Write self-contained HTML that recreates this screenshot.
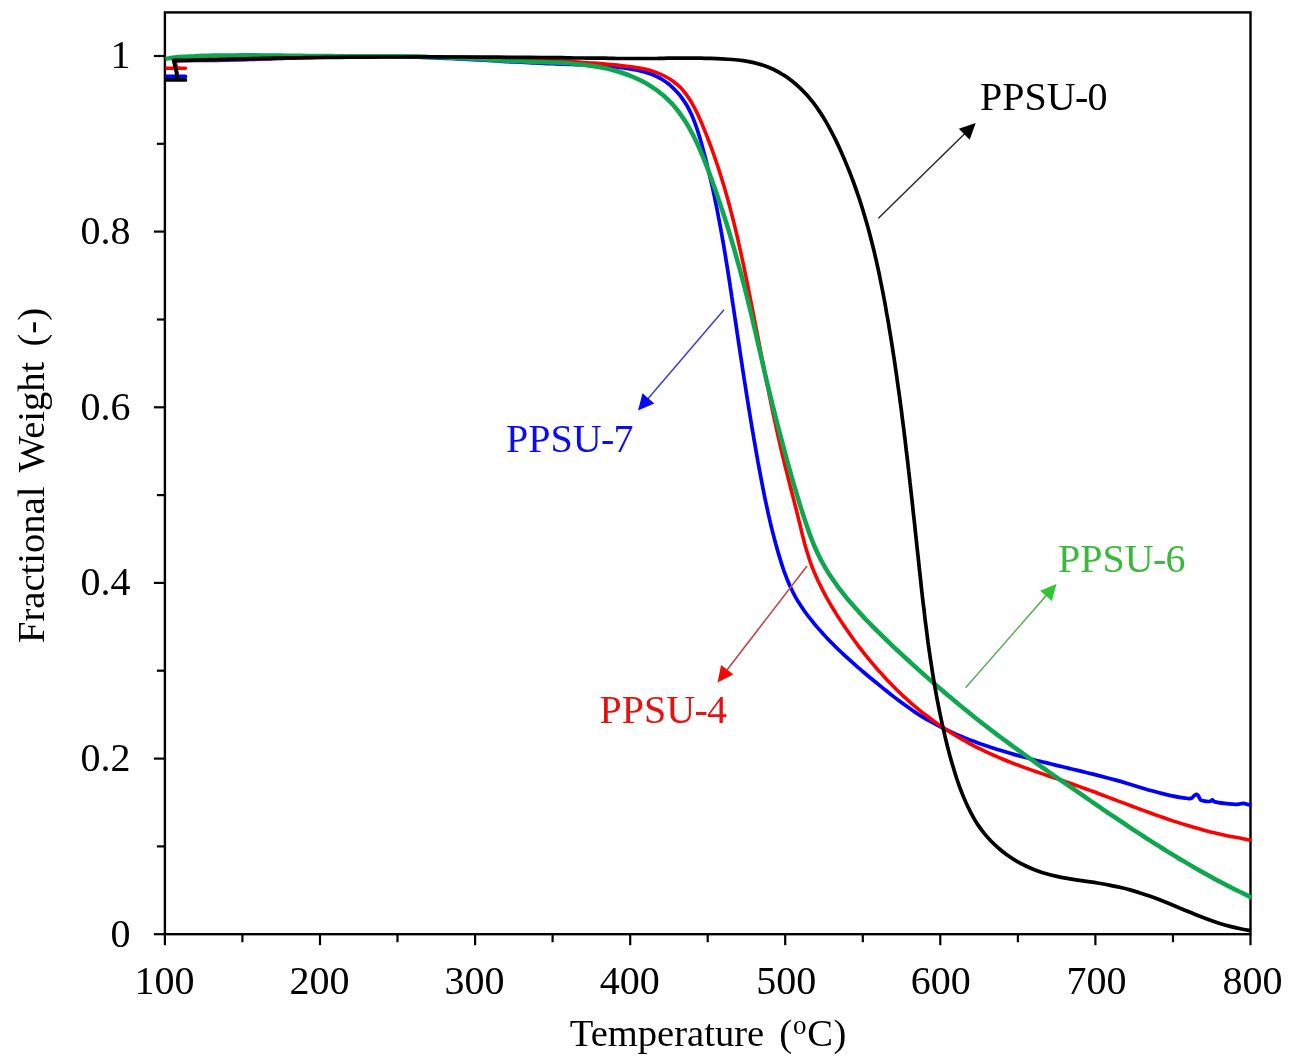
<!DOCTYPE html>
<html><head><meta charset="utf-8"><title>TGA</title>
<style>
html,body{margin:0;padding:0;background:#fff;}
body{width:1292px;height:1063px;overflow:hidden;font-family:"Liberation Serif",serif;}
svg{display:block;will-change:transform;filter:blur(0.4px);}
svg text{font-family:"Liberation Serif",serif;font-size:40px;fill:#000;}
</style></head><body>
<svg width="1292" height="1063" viewBox="0 0 1292 1063">
<rect x="0" y="0" width="1292" height="1063" fill="#ffffff"/>
<rect x="164.9" y="12.4" width="1085.6" height="921.8" fill="none" stroke="#000" stroke-width="2.4"/>
<g stroke="#000" stroke-width="2.2"><line x1="164.9" y1="934.2" x2="164.9" y2="945.2"/><line x1="242.4" y1="934.2" x2="242.4" y2="942.2"/><line x1="320.0" y1="934.2" x2="320.0" y2="945.2"/><line x1="397.5" y1="934.2" x2="397.5" y2="942.2"/><line x1="475.1" y1="934.2" x2="475.1" y2="945.2"/><line x1="552.6" y1="934.2" x2="552.6" y2="942.2"/><line x1="630.2" y1="934.2" x2="630.2" y2="945.2"/><line x1="707.7" y1="934.2" x2="707.7" y2="942.2"/><line x1="785.2" y1="934.2" x2="785.2" y2="945.2"/><line x1="862.8" y1="934.2" x2="862.8" y2="942.2"/><line x1="940.3" y1="934.2" x2="940.3" y2="945.2"/><line x1="1017.9" y1="934.2" x2="1017.9" y2="942.2"/><line x1="1095.4" y1="934.2" x2="1095.4" y2="945.2"/><line x1="1173.0" y1="934.2" x2="1173.0" y2="942.2"/><line x1="1250.5" y1="934.2" x2="1250.5" y2="945.2"/><line x1="153.9" y1="934.2" x2="164.9" y2="934.2"/><line x1="156.9" y1="846.4" x2="164.9" y2="846.4"/><line x1="153.9" y1="758.6" x2="164.9" y2="758.6"/><line x1="156.9" y1="670.7" x2="164.9" y2="670.7"/><line x1="153.9" y1="582.9" x2="164.9" y2="582.9"/><line x1="156.9" y1="495.1" x2="164.9" y2="495.1"/><line x1="153.9" y1="407.3" x2="164.9" y2="407.3"/><line x1="156.9" y1="319.5" x2="164.9" y2="319.5"/><line x1="153.9" y1="231.6" x2="164.9" y2="231.6"/><line x1="156.9" y1="143.8" x2="164.9" y2="143.8"/><line x1="153.9" y1="56.0" x2="164.9" y2="56.0"/></g>
<g fill="none" stroke-width="3.7" stroke-linejoin="round" stroke-linecap="butt">
<path d="M165.4 76.4 L185.5 76.4 L180.0 76.4 L177.2 75.5 L175.0 61.5 L180.0 60.5 C181.6 60.5 186.2 60.4 189.3 60.4 C192.4 60.4 195.5 60.4 198.6 60.4 C201.7 60.4 204.8 60.4 207.9 60.4 C211.0 60.4 214.1 60.3 217.2 60.3 C220.3 60.2 223.4 60.2 226.6 60.1 C229.7 60.0 232.8 60.0 235.9 59.9 C239.0 59.8 242.1 59.7 245.2 59.6 C248.3 59.5 251.4 59.4 254.5 59.3 C257.6 59.2 260.7 59.1 263.8 59.0 C266.9 58.9 270.1 58.7 273.2 58.6 C276.3 58.5 279.4 58.4 282.5 58.3 C285.6 58.1 288.7 58.0 291.8 57.9 C294.9 57.8 298.0 57.7 301.1 57.6 C304.3 57.4 307.4 57.3 310.5 57.2 C313.6 57.1 316.7 57.0 319.8 56.9 C322.9 56.8 326.0 56.7 329.1 56.7 C332.2 56.6 335.3 56.5 338.5 56.4 C341.6 56.4 344.7 56.3 347.8 56.2 C350.9 56.2 354.0 56.2 357.1 56.1 C360.2 56.1 363.3 56.1 366.4 56.1 C369.5 56.1 372.6 56.1 375.7 56.1 C378.8 56.1 381.9 56.2 385.0 56.2 C388.1 56.3 391.2 56.3 394.3 56.4 C397.5 56.5 400.6 56.5 403.7 56.6 C406.8 56.7 409.9 56.8 413.0 56.9 C416.1 57.0 419.2 57.1 422.3 57.3 C425.4 57.4 428.5 57.5 431.6 57.6 C434.7 57.8 437.8 57.9 440.9 58.1 C444.0 58.2 447.1 58.4 450.2 58.5 C453.3 58.7 456.4 58.8 459.5 59.0 C462.6 59.2 465.7 59.3 468.8 59.5 C471.9 59.7 475.0 59.8 478.1 60.0 C481.2 60.2 484.3 60.4 487.4 60.5 C490.5 60.7 493.6 60.9 496.7 61.0 C499.8 61.2 502.9 61.4 506.0 61.6 C509.1 61.7 512.2 61.9 515.3 62.0 C518.4 62.2 521.5 62.4 524.6 62.5 C527.7 62.7 530.8 62.8 533.9 63.0 C537.0 63.1 540.1 63.2 543.2 63.4 C546.3 63.5 549.4 63.6 552.5 63.7 C555.6 63.9 558.7 64.0 561.8 64.1 C565.0 64.2 568.1 64.3 571.2 64.4 C574.3 64.5 577.4 64.6 580.5 64.7 C583.6 64.8 586.7 64.9 589.8 65.1 C592.9 65.2 596.0 65.4 599.1 65.6 C602.3 65.8 605.4 66.0 608.5 66.3 C611.6 66.5 614.7 66.8 617.8 67.2 C620.9 67.6 624.0 68.0 627.1 68.4 C630.2 68.9 633.3 69.4 636.3 70.0 C639.4 70.7 642.4 71.4 645.4 72.2 C648.4 73.1 651.3 74.1 654.1 75.3 C656.9 76.5 659.6 77.9 662.2 79.5 C664.8 81.1 667.3 82.9 669.7 84.8 C672.0 86.8 674.2 88.9 676.3 91.2 C678.4 93.4 680.4 95.8 682.2 98.3 C684.0 100.8 685.7 103.4 687.2 106.0 C688.7 108.7 690.1 111.5 691.4 114.3 C692.7 117.1 693.8 120.0 694.9 122.9 C696.0 125.8 697.0 128.8 698.0 131.8 C699.0 134.8 699.8 137.8 700.7 140.8 C701.6 143.9 702.4 146.9 703.2 149.9 C704.1 153.0 704.9 156.0 705.7 159.0 C706.4 162.1 707.2 165.1 707.9 168.1 C708.7 171.2 709.4 174.2 710.1 177.3 C710.8 180.3 711.5 183.3 712.2 186.4 C712.9 189.4 713.5 192.5 714.2 195.5 C714.8 198.6 715.5 201.6 716.1 204.6 C716.7 207.7 717.3 210.7 717.9 213.8 C718.5 216.8 719.1 219.9 719.6 222.9 C720.2 226.0 720.8 229.0 721.3 232.1 C721.9 235.1 722.4 238.2 722.9 241.2 C723.5 244.3 724.0 247.4 724.5 250.4 C725.0 253.5 725.5 256.5 726.0 259.6 C726.5 262.6 727.0 265.7 727.5 268.8 C728.0 271.8 728.4 274.9 728.9 277.9 C729.4 281.0 729.9 284.1 730.3 287.1 C730.8 290.2 731.3 293.3 731.7 296.3 C732.2 299.4 732.6 302.5 733.1 305.5 C733.6 308.6 734.0 311.7 734.5 314.7 C734.9 317.8 735.4 320.9 735.9 323.9 C736.3 327.0 736.8 330.1 737.2 333.2 C737.7 336.2 738.2 339.3 738.6 342.4 C739.1 345.4 739.5 348.5 740.0 351.6 C740.5 354.7 740.9 357.7 741.4 360.8 C741.9 363.9 742.3 367.0 742.8 370.0 C743.3 373.1 743.8 376.2 744.2 379.3 C744.7 382.3 745.2 385.4 745.7 388.5 C746.2 391.6 746.6 394.6 747.1 397.7 C747.6 400.8 748.1 403.8 748.6 406.9 C749.1 410.0 749.6 413.1 750.1 416.1 C750.6 419.2 751.1 422.3 751.6 425.3 C752.1 428.4 752.7 431.5 753.2 434.5 C753.7 437.6 754.2 440.7 754.8 443.7 C755.3 446.8 755.8 449.8 756.4 452.9 C756.9 456.0 757.5 459.0 758.0 462.1 C758.6 465.1 759.1 468.2 759.7 471.2 C760.3 474.3 760.8 477.3 761.4 480.4 C762.0 483.4 762.6 486.5 763.2 489.5 C763.8 492.6 764.4 495.6 765.0 498.6 C765.7 501.7 766.3 504.7 767.0 507.8 C767.6 510.8 768.3 513.8 769.0 516.8 C769.7 519.9 770.4 522.9 771.1 525.9 C771.8 528.9 772.6 531.9 773.4 534.9 C774.1 538.0 774.9 541.0 775.8 544.0 C776.6 547.0 777.4 550.0 778.3 552.9 C779.2 555.9 780.1 558.9 781.0 561.9 C781.9 564.9 782.9 567.8 783.9 570.8 C785.0 573.7 786.0 576.6 787.2 579.5 C788.4 582.4 789.6 585.2 790.9 588.1 C792.2 590.9 793.6 593.6 795.1 596.3 C796.6 599.0 798.2 601.7 799.9 604.3 C801.6 606.9 803.3 609.5 805.1 612.0 C806.9 614.5 808.8 617.0 810.8 619.4 C812.7 621.9 814.7 624.3 816.7 626.6 C818.7 629.0 820.8 631.3 822.9 633.6 C824.9 635.9 827.1 638.2 829.2 640.4 C831.4 642.6 833.6 644.8 835.8 647.0 C838.0 649.2 840.2 651.3 842.5 653.4 C844.7 655.5 847.0 657.6 849.3 659.7 C851.6 661.8 853.9 663.8 856.3 665.9 C858.6 667.9 861.0 669.9 863.4 672.0 C865.7 674.0 868.1 676.0 870.5 678.0 C872.9 679.9 875.3 681.9 877.8 683.9 C880.2 685.9 882.6 687.8 885.0 689.8 C887.5 691.7 889.9 693.7 892.4 695.6 C894.8 697.5 897.3 699.4 899.8 701.3 C902.3 703.2 904.8 705.0 907.4 706.8 C909.9 708.6 912.5 710.4 915.0 712.1 C917.6 713.8 920.2 715.5 922.9 717.1 C925.5 718.7 928.2 720.2 930.9 721.7 C933.6 723.2 936.3 724.7 939.1 726.1 C941.8 727.5 944.6 728.9 947.4 730.2 C950.2 731.5 953.0 732.8 955.8 734.1 C958.7 735.3 961.5 736.5 964.4 737.7 C967.3 738.8 970.2 740.0 973.1 741.1 C976.0 742.2 978.9 743.2 981.8 744.3 C984.7 745.3 987.7 746.3 990.6 747.3 C993.6 748.2 996.6 749.2 999.5 750.1 C1002.5 751.0 1005.5 751.9 1008.5 752.8 C1011.5 753.7 1014.5 754.5 1017.5 755.4 C1020.5 756.2 1023.5 757.0 1026.5 757.8 C1029.5 758.6 1032.6 759.4 1035.6 760.2 C1038.6 760.9 1041.6 761.7 1044.6 762.4 C1047.6 763.2 1050.7 763.9 1053.7 764.6 C1056.7 765.4 1059.7 766.1 1062.7 766.8 C1065.7 767.5 1068.7 768.3 1071.7 769.0 C1074.8 769.7 1077.8 770.4 1080.8 771.1 C1083.8 771.9 1086.8 772.6 1089.8 773.4 C1092.8 774.1 1095.8 774.8 1098.8 775.6 C1101.8 776.4 1104.8 777.2 1107.8 778.0 C1110.8 778.8 1113.8 779.6 1116.8 780.4 C1119.8 781.2 1122.8 782.1 1125.8 783.0 C1128.7 783.9 1131.7 784.8 1134.7 785.7 C1137.7 786.6 1140.7 787.5 1143.7 788.4 C1146.6 789.3 1149.6 790.2 1152.6 791.0 C1155.6 791.8 1158.6 792.7 1161.6 793.4 C1164.7 794.2 1167.7 794.9 1170.7 795.6 C1173.8 796.2 1176.8 796.8 1179.9 797.3 C1182.9 797.8 1187.6 798.4 1189.1 798.6 C1189.5 798.5 1190.7 798.7 1191.6 798.1 C1192.5 797.5 1193.9 795.9 1194.7 795.3 C1195.5 794.7 1196.0 794.3 1196.6 794.4 C1197.2 794.5 1197.8 795.0 1198.4 795.9 C1199.0 796.8 1199.5 798.8 1200.3 799.6 C1201.1 800.4 1201.8 800.6 1203.4 800.9 C1205.0 801.2 1208.5 801.6 1210.0 801.4 C1211.5 801.2 1211.6 799.8 1212.4 799.9 C1213.2 800.0 1212.8 801.3 1214.9 801.9 C1217.0 802.5 1221.1 803.0 1224.8 803.4 C1228.5 803.8 1234.1 804.4 1237.2 804.4 C1240.3 804.4 1241.0 803.2 1243.4 803.4 C1245.8 803.6 1250.2 805.1 1251.5 805.4" stroke="#0000ff" stroke-width="3.7"/>
<path d="M165.4 68.3 L185.5 68.3 L180.0 68.3 L176.5 67.5 L174.5 61.0 L180.0 60.4 C181.6 60.4 186.5 60.3 189.7 60.3 C193.0 60.2 196.2 60.1 199.4 60.1 C202.7 60.0 205.9 59.9 209.2 59.8 C212.4 59.8 215.6 59.7 218.9 59.6 C222.1 59.5 225.4 59.5 228.6 59.4 C231.8 59.3 235.1 59.2 238.3 59.2 C241.6 59.1 244.8 59.0 248.0 58.9 C251.3 58.8 254.5 58.8 257.8 58.7 C261.0 58.6 264.2 58.5 267.5 58.5 C270.7 58.4 273.9 58.3 277.2 58.3 C280.4 58.2 283.7 58.1 286.9 58.0 C290.1 58.0 293.4 57.9 296.6 57.8 C299.9 57.8 303.1 57.7 306.3 57.7 C309.6 57.6 312.8 57.5 316.0 57.5 C319.3 57.4 322.5 57.4 325.8 57.3 C329.0 57.3 332.2 57.2 335.5 57.2 C338.7 57.1 342.0 57.1 345.2 57.0 C348.4 57.0 351.7 56.9 354.9 56.9 C358.2 56.9 361.4 56.8 364.6 56.8 C367.9 56.8 371.1 56.7 374.3 56.7 C377.6 56.7 380.8 56.7 384.1 56.7 C387.3 56.6 390.5 56.6 393.8 56.6 C397.0 56.6 400.3 56.6 403.5 56.6 C406.7 56.6 410.0 56.6 413.2 56.6 C416.5 56.6 419.7 56.6 422.9 56.7 C426.2 56.7 429.4 56.7 432.7 56.7 C435.9 56.8 439.2 56.8 442.4 56.8 C445.6 56.9 448.9 56.9 452.1 57.0 C455.4 57.0 458.6 57.1 461.8 57.1 C465.1 57.2 468.3 57.3 471.6 57.3 C474.8 57.4 478.1 57.5 481.3 57.6 C484.5 57.6 487.8 57.7 491.0 57.8 C494.3 57.9 497.5 58.0 500.7 58.1 C504.0 58.2 507.2 58.3 510.5 58.5 C513.7 58.6 516.9 58.7 520.2 58.8 C523.4 59.0 526.7 59.1 529.9 59.3 C533.1 59.4 536.4 59.6 539.6 59.7 C542.8 59.9 546.1 60.0 549.3 60.2 C552.5 60.4 555.8 60.6 559.0 60.8 C562.2 61.0 565.5 61.2 568.7 61.4 C571.9 61.6 575.1 61.8 578.4 62.0 C581.6 62.2 584.8 62.4 588.0 62.7 C591.3 62.9 594.5 63.1 597.7 63.4 C600.9 63.7 604.1 63.9 607.4 64.2 C610.6 64.5 613.8 64.8 617.0 65.1 C620.3 65.4 623.5 65.8 626.7 66.2 C630.0 66.6 633.2 66.9 636.4 67.5 C639.7 68.0 642.9 68.5 646.1 69.3 C649.2 70.1 652.4 71.0 655.5 72.1 C658.5 73.2 661.6 74.5 664.5 76.0 C667.3 77.5 670.2 79.1 672.7 81.0 C675.3 82.9 677.8 84.9 680.0 87.1 C682.3 89.4 684.3 91.8 686.2 94.3 C688.1 96.8 689.8 99.5 691.5 102.3 C693.1 105.1 694.6 108.0 696.1 110.9 C697.5 113.8 698.9 116.8 700.2 119.8 C701.5 122.8 702.8 125.8 704.0 128.9 C705.2 131.9 706.5 134.9 707.6 138.0 C708.8 141.0 710.0 144.1 711.1 147.1 C712.2 150.2 713.3 153.2 714.4 156.3 C715.5 159.4 716.5 162.5 717.5 165.5 C718.6 168.6 719.5 171.7 720.5 174.8 C721.5 177.9 722.4 181.0 723.4 184.1 C724.3 187.2 725.2 190.3 726.1 193.4 C727.0 196.5 727.9 199.7 728.7 202.8 C729.5 205.9 730.4 209.0 731.2 212.2 C732.0 215.3 732.8 218.4 733.6 221.6 C734.4 224.7 735.1 227.8 735.9 231.0 C736.6 234.1 737.4 237.3 738.1 240.4 C738.8 243.6 739.5 246.7 740.2 249.9 C740.9 253.1 741.6 256.2 742.3 259.4 C743.0 262.6 743.6 265.7 744.3 268.9 C745.0 272.1 745.6 275.2 746.3 278.4 C746.9 281.6 747.6 284.8 748.2 287.9 C748.8 291.1 749.5 294.3 750.1 297.5 C750.7 300.6 751.4 303.8 752.0 307.0 C752.6 310.2 753.2 313.4 753.9 316.5 C754.5 319.7 755.1 322.9 755.7 326.1 C756.3 329.3 757.0 332.5 757.6 335.6 C758.2 338.8 758.8 342.0 759.4 345.2 C760.0 348.4 760.7 351.6 761.3 354.8 C761.9 357.9 762.5 361.1 763.2 364.3 C763.8 367.5 764.4 370.7 765.0 373.8 C765.7 377.0 766.3 380.2 766.9 383.4 C767.6 386.6 768.2 389.7 768.9 392.9 C769.5 396.1 770.2 399.3 770.8 402.4 C771.5 405.6 772.2 408.8 772.8 412.0 C773.5 415.1 774.2 418.3 774.9 421.5 C775.6 424.6 776.2 427.8 776.9 430.9 C777.6 434.1 778.4 437.3 779.1 440.4 C779.8 443.6 780.5 446.7 781.2 449.9 C782.0 453.0 782.7 456.2 783.5 459.3 C784.2 462.4 785.0 465.6 785.8 468.7 C786.6 471.9 787.4 475.0 788.2 478.1 C788.9 481.3 789.8 484.4 790.6 487.5 C791.4 490.6 792.2 493.8 793.0 496.9 C793.8 500.1 794.6 503.2 795.4 506.3 C796.2 509.5 797.0 512.6 797.8 515.8 C798.5 518.9 799.3 522.1 800.1 525.3 C800.9 528.5 801.6 531.6 802.4 534.8 C803.2 538.0 804.0 541.1 804.8 544.3 C805.7 547.4 806.6 550.5 807.6 553.6 C808.5 556.7 809.5 559.8 810.6 562.8 C811.7 565.9 812.9 568.9 814.1 571.9 C815.4 574.8 816.7 577.8 818.0 580.7 C819.4 583.6 820.8 586.5 822.3 589.4 C823.7 592.3 825.2 595.1 826.8 597.9 C828.3 600.8 830.0 603.6 831.6 606.3 C833.3 609.1 835.0 611.9 836.7 614.6 C838.4 617.4 840.2 620.1 842.0 622.8 C843.8 625.5 845.6 628.1 847.5 630.8 C849.3 633.5 851.2 636.1 853.1 638.7 C855.0 641.4 857.0 644.0 858.9 646.6 C860.9 649.1 862.9 651.7 864.9 654.3 C867.0 656.8 869.0 659.3 871.1 661.8 C873.2 664.3 875.3 666.8 877.4 669.2 C879.6 671.6 881.7 674.1 883.9 676.4 C886.1 678.8 888.4 681.2 890.6 683.5 C892.9 685.8 895.2 688.1 897.5 690.4 C899.8 692.7 902.1 694.9 904.5 697.1 C906.9 699.3 909.3 701.4 911.7 703.6 C914.2 705.7 916.7 707.8 919.1 709.8 C921.6 711.9 924.2 713.9 926.7 715.8 C929.3 717.8 931.9 719.7 934.5 721.6 C937.1 723.5 939.8 725.4 942.5 727.2 C945.1 729.0 947.9 730.7 950.6 732.5 C953.3 734.2 956.1 735.9 958.9 737.5 C961.7 739.1 964.5 740.7 967.3 742.3 C970.2 743.8 973.0 745.3 975.9 746.8 C978.8 748.3 981.7 749.7 984.6 751.1 C987.6 752.5 990.5 753.9 993.5 755.2 C996.4 756.5 999.4 757.8 1002.4 759.0 C1005.4 760.3 1008.4 761.5 1011.4 762.7 C1014.4 763.8 1017.4 765.0 1020.5 766.1 C1023.5 767.2 1026.5 768.3 1029.6 769.4 C1032.6 770.5 1035.7 771.5 1038.8 772.6 C1041.8 773.7 1044.9 774.7 1048.0 775.7 C1051.0 776.8 1054.1 777.8 1057.2 778.9 C1060.3 779.9 1063.3 780.9 1066.4 782.0 C1069.5 783.0 1072.5 784.1 1075.6 785.2 C1078.6 786.3 1081.7 787.4 1084.7 788.5 C1087.8 789.6 1090.8 790.7 1093.9 791.8 C1096.9 792.9 1099.9 794.1 1103.0 795.2 C1106.0 796.4 1109.0 797.5 1112.1 798.7 C1115.1 799.8 1118.1 801.0 1121.2 802.1 C1124.2 803.3 1127.2 804.4 1130.3 805.5 C1133.3 806.7 1136.3 807.8 1139.4 809.0 C1142.4 810.1 1145.5 811.2 1148.5 812.3 C1151.5 813.4 1154.6 814.5 1157.6 815.6 C1160.7 816.7 1163.8 817.7 1166.8 818.8 C1169.9 819.8 1172.9 820.9 1176.0 821.9 C1179.1 822.9 1182.2 823.8 1185.3 824.8 C1188.3 825.8 1191.4 826.7 1194.6 827.6 C1197.7 828.5 1200.8 829.4 1203.9 830.2 C1207.0 831.0 1210.2 831.9 1213.3 832.6 C1216.4 833.4 1219.6 834.1 1222.8 834.8 C1225.9 835.5 1229.1 836.2 1232.3 836.8 C1235.5 837.4 1238.8 837.9 1241.9 838.5 C1245.1 839.1 1249.9 840.0 1251.5 840.3" stroke="#ff0000" stroke-width="3.6"/>
<path d="M165.4 58.9 C167.0 58.7 171.8 57.8 175.0 57.4 C178.2 57.1 181.5 56.9 184.7 56.7 C188.0 56.5 191.2 56.3 194.5 56.2 C197.7 56.0 201.0 55.9 204.2 55.8 C207.5 55.7 210.7 55.7 214.0 55.6 C217.2 55.5 220.5 55.5 223.7 55.4 C227.0 55.4 230.2 55.4 233.5 55.4 C236.7 55.3 240.0 55.3 243.2 55.3 C246.5 55.3 249.7 55.3 253.0 55.3 C256.2 55.4 259.5 55.4 262.7 55.4 C266.0 55.4 269.2 55.5 272.5 55.5 C275.7 55.5 279.0 55.6 282.2 55.6 C285.5 55.6 288.7 55.7 292.0 55.7 C295.2 55.8 298.5 55.8 301.7 55.8 C305.0 55.9 308.2 55.9 311.5 56.0 C314.8 56.0 318.0 56.0 321.3 56.1 C324.5 56.1 327.8 56.1 331.0 56.1 C334.3 56.1 337.6 56.2 340.8 56.2 C344.1 56.2 347.4 56.2 350.6 56.2 C353.9 56.2 357.2 56.2 360.4 56.2 C363.7 56.2 367.0 56.2 370.2 56.2 C373.5 56.2 376.8 56.2 380.0 56.2 C383.3 56.2 386.5 56.3 389.8 56.3 C393.1 56.3 396.3 56.3 399.6 56.3 C402.8 56.4 406.1 56.4 409.4 56.5 C412.6 56.5 415.9 56.6 419.1 56.6 C422.4 56.7 425.6 56.8 428.9 56.9 C432.1 56.9 435.3 57.0 438.6 57.2 C441.8 57.3 445.0 57.4 448.3 57.5 C451.5 57.7 454.7 57.8 458.0 58.0 C461.2 58.2 464.4 58.3 467.6 58.5 C470.9 58.7 474.1 58.9 477.3 59.1 C480.5 59.2 483.8 59.4 487.0 59.6 C490.2 59.8 493.5 60.0 496.7 60.2 C499.9 60.3 503.2 60.5 506.4 60.7 C509.7 60.8 512.9 61.0 516.2 61.1 C519.4 61.3 522.7 61.4 526.0 61.5 C529.2 61.7 532.5 61.8 535.8 61.9 C539.1 62.0 542.4 62.1 545.6 62.2 C548.9 62.3 552.2 62.4 555.5 62.6 C558.8 62.8 562.1 62.9 565.3 63.1 C568.6 63.3 571.9 63.6 575.1 63.9 C578.4 64.1 581.6 64.5 584.9 64.9 C588.1 65.3 591.3 65.7 594.5 66.2 C597.7 66.7 600.9 67.3 604.1 68.0 C607.3 68.6 610.4 69.4 613.5 70.2 C616.7 71.1 619.8 72.0 622.8 73.0 C625.9 74.1 629.0 75.2 632.0 76.5 C635.0 77.7 637.9 79.1 640.9 80.6 C643.8 82.0 646.6 83.6 649.4 85.3 C652.2 87.0 654.9 88.8 657.5 90.7 C660.1 92.7 662.6 94.7 665.0 96.8 C667.3 99.0 669.6 101.2 671.8 103.6 C673.9 105.9 676.0 108.4 678.0 110.9 C679.9 113.5 681.8 116.1 683.6 118.8 C685.4 121.5 687.1 124.2 688.7 127.0 C690.3 129.9 691.9 132.8 693.4 135.7 C694.9 138.6 696.3 141.6 697.7 144.6 C699.0 147.6 700.4 150.6 701.6 153.7 C702.9 156.7 704.2 159.8 705.4 162.9 C706.6 165.9 707.7 169.0 708.9 172.1 C710.1 175.2 711.2 178.3 712.3 181.3 C713.4 184.4 714.5 187.4 715.6 190.5 C716.7 193.6 717.7 196.6 718.7 199.7 C719.8 202.7 720.8 205.8 721.8 208.9 C722.8 211.9 723.8 215.0 724.8 218.1 C725.8 221.1 726.7 224.2 727.7 227.3 C728.6 230.4 729.6 233.5 730.5 236.6 C731.4 239.7 732.3 242.8 733.3 245.9 C734.2 249.1 735.1 252.2 735.9 255.3 C736.8 258.5 737.7 261.6 738.6 264.8 C739.4 267.9 740.3 271.1 741.1 274.2 C742.0 277.4 742.8 280.5 743.6 283.7 C744.5 286.8 745.3 290.0 746.1 293.2 C746.9 296.3 747.7 299.5 748.4 302.7 C749.2 305.9 750.0 309.0 750.8 312.2 C751.5 315.4 752.3 318.5 753.0 321.7 C753.8 324.9 754.5 328.0 755.2 331.2 C756.0 334.4 756.7 337.5 757.4 340.7 C758.2 343.9 758.9 347.0 759.6 350.2 C760.3 353.4 761.1 356.5 761.8 359.7 C762.5 362.9 763.3 366.0 764.0 369.2 C764.7 372.4 765.5 375.5 766.2 378.7 C767.0 381.9 767.7 385.0 768.5 388.2 C769.2 391.3 770.0 394.5 770.8 397.7 C771.6 400.8 772.3 404.0 773.1 407.1 C773.9 410.3 774.7 413.4 775.5 416.6 C776.3 419.7 777.1 422.9 777.9 426.0 C778.7 429.2 779.6 432.3 780.4 435.5 C781.2 438.6 782.1 441.8 782.9 444.9 C783.7 448.1 784.6 451.2 785.4 454.4 C786.3 457.5 787.2 460.6 788.0 463.8 C788.9 466.9 789.8 470.0 790.7 473.2 C791.5 476.3 792.4 479.4 793.3 482.6 C794.2 485.7 795.1 488.8 796.1 491.9 C797.0 495.0 797.9 498.2 798.9 501.3 C799.8 504.4 800.8 507.5 801.8 510.6 C802.8 513.7 803.8 516.8 804.8 519.9 C805.8 523.0 806.9 526.1 808.0 529.2 C809.0 532.3 810.1 535.4 811.3 538.4 C812.5 541.5 813.7 544.5 815.0 547.5 C816.3 550.4 817.7 553.4 819.1 556.3 C820.5 559.2 822.1 562.0 823.7 564.9 C825.2 567.7 826.9 570.4 828.6 573.2 C830.4 575.9 832.2 578.6 834.0 581.2 C835.9 583.9 837.8 586.5 839.7 589.1 C841.7 591.7 843.7 594.3 845.8 596.8 C847.8 599.3 849.9 601.8 852.1 604.3 C854.2 606.7 856.4 609.2 858.6 611.6 C860.7 614.0 863.0 616.4 865.2 618.8 C867.5 621.1 869.7 623.5 872.0 625.8 C874.3 628.1 876.6 630.4 878.9 632.7 C881.2 635.0 883.6 637.3 885.9 639.5 C888.3 641.8 890.6 644.0 893.0 646.3 C895.3 648.5 897.7 650.7 900.1 652.9 C902.5 655.1 904.9 657.3 907.3 659.5 C909.7 661.7 912.1 663.9 914.5 666.1 C916.9 668.3 919.3 670.5 921.8 672.6 C924.2 674.8 926.6 676.9 929.1 679.1 C931.5 681.2 934.0 683.4 936.4 685.5 C938.9 687.6 941.4 689.7 943.8 691.8 C946.3 694.0 948.8 696.1 951.3 698.1 C953.8 700.2 956.3 702.3 958.8 704.4 C961.3 706.5 963.8 708.5 966.4 710.6 C968.9 712.6 971.4 714.6 974.0 716.7 C976.5 718.7 979.1 720.7 981.6 722.7 C984.2 724.7 986.8 726.7 989.4 728.7 C991.9 730.6 994.5 732.6 997.1 734.6 C999.7 736.5 1002.3 738.5 1004.9 740.4 C1007.6 742.3 1010.2 744.3 1012.8 746.2 C1015.4 748.1 1018.1 750.0 1020.7 751.9 C1023.3 753.8 1026.0 755.7 1028.6 757.6 C1031.3 759.5 1033.9 761.4 1036.6 763.3 C1039.2 765.1 1041.9 767.0 1044.5 768.9 C1047.2 770.8 1049.9 772.6 1052.5 774.5 C1055.2 776.3 1057.9 778.2 1060.6 780.1 C1063.2 781.9 1065.9 783.8 1068.6 785.6 C1071.3 787.5 1073.9 789.3 1076.6 791.2 C1079.3 793.0 1082.0 794.9 1084.6 796.7 C1087.3 798.6 1090.0 800.4 1092.7 802.3 C1095.4 804.1 1098.1 805.9 1100.7 807.8 C1103.4 809.6 1106.1 811.4 1108.8 813.3 C1111.5 815.1 1114.2 816.9 1116.9 818.7 C1119.6 820.5 1122.3 822.4 1125.0 824.2 C1127.7 826.0 1130.4 827.8 1133.1 829.6 C1135.9 831.3 1138.6 833.1 1141.3 834.9 C1144.0 836.7 1146.8 838.4 1149.5 840.2 C1152.2 841.9 1155.0 843.7 1157.7 845.4 C1160.5 847.1 1163.2 848.9 1166.0 850.6 C1168.8 852.3 1171.5 854.0 1174.3 855.7 C1177.1 857.4 1179.9 859.0 1182.7 860.7 C1185.5 862.4 1188.3 864.0 1191.1 865.6 C1193.9 867.3 1196.7 868.9 1199.5 870.5 C1202.4 872.1 1205.2 873.7 1208.1 875.2 C1210.9 876.8 1213.8 878.4 1216.6 879.9 C1219.5 881.4 1222.4 882.9 1225.3 884.4 C1228.2 885.9 1231.1 887.4 1234.0 888.9 C1236.9 890.3 1239.9 891.7 1242.8 893.2 C1245.7 894.7 1250.0 896.9 1251.5 897.6" stroke="#0ea64e" stroke-width="4.5"/>
<path d="M165.4 79.9 L185.5 79.9 L181.0 79.9 L177.8 79.5 L176.0 70.0 L173.6 60.3 L178.0 60.4 C179.8 60.4 185.1 60.4 188.7 60.3 C192.2 60.2 195.8 60.1 199.3 60.0 C202.9 59.9 206.4 59.8 210.0 59.7 C213.5 59.6 217.1 59.5 220.6 59.4 C224.2 59.3 227.7 59.2 231.3 59.1 C234.9 59.0 238.4 58.9 242.0 58.8 C245.5 58.8 249.1 58.7 252.6 58.6 C256.2 58.5 259.7 58.5 263.3 58.4 C266.8 58.3 270.4 58.3 273.9 58.2 C277.5 58.1 281.1 58.1 284.6 58.0 C288.2 57.9 291.7 57.9 295.3 57.8 C298.8 57.8 302.4 57.7 305.9 57.7 C309.5 57.6 313.1 57.6 316.6 57.5 C320.2 57.5 323.7 57.5 327.3 57.4 C330.8 57.4 334.4 57.3 337.9 57.3 C341.5 57.3 345.1 57.2 348.6 57.2 C352.2 57.2 355.7 57.2 359.3 57.1 C362.8 57.1 366.4 57.1 369.9 57.1 C373.5 57.1 377.1 57.0 380.6 57.0 C384.2 57.0 387.7 57.0 391.3 57.0 C394.8 57.0 398.4 57.0 401.9 57.0 C405.5 56.9 409.1 56.9 412.6 56.9 C416.2 56.9 419.7 56.9 423.3 56.9 C426.8 56.9 430.4 56.9 433.9 56.9 C437.5 56.9 441.0 57.0 444.6 57.0 C448.2 57.0 451.7 57.0 455.3 57.0 C458.8 57.0 462.4 57.0 465.9 57.0 C469.5 57.0 473.0 57.1 476.6 57.1 C480.1 57.1 483.7 57.1 487.3 57.1 C490.8 57.1 494.4 57.2 497.9 57.2 C501.5 57.2 505.0 57.2 508.6 57.3 C512.1 57.3 515.7 57.3 519.2 57.3 C522.8 57.4 526.3 57.4 529.9 57.4 C533.4 57.5 537.0 57.5 540.6 57.5 C544.1 57.6 547.7 57.6 551.2 57.6 C554.8 57.7 558.3 57.7 561.9 57.7 C565.4 57.8 569.0 57.8 572.5 57.9 C576.1 57.9 579.6 57.9 583.2 58.0 C586.7 58.0 590.3 58.1 593.8 58.1 C597.4 58.2 600.9 58.2 604.5 58.2 C608.0 58.3 611.6 58.3 615.2 58.4 C618.7 58.4 622.3 58.4 625.8 58.5 C629.4 58.5 632.9 58.5 636.5 58.5 C640.0 58.5 643.6 58.5 647.1 58.5 C650.7 58.4 654.2 58.4 657.8 58.4 C661.3 58.3 664.9 58.3 668.4 58.2 C671.9 58.2 675.5 58.2 679.0 58.1 C682.6 58.1 686.1 58.1 689.7 58.1 C693.2 58.1 696.8 58.1 700.3 58.2 C703.9 58.3 707.5 58.3 711.0 58.4 C714.6 58.5 718.2 58.7 721.7 58.8 C725.3 59.0 728.9 59.2 732.5 59.5 C736.1 59.8 739.6 60.2 743.2 60.7 C746.7 61.2 750.2 61.8 753.7 62.6 C757.1 63.4 760.6 64.3 763.9 65.5 C767.2 66.6 770.5 68.0 773.7 69.5 C776.9 71.1 780.0 72.8 783.0 74.7 C786.0 76.5 788.9 78.6 791.7 80.7 C794.5 82.9 797.1 85.2 799.6 87.6 C802.2 90.0 804.6 92.5 806.9 95.1 C809.3 97.7 811.5 100.5 813.6 103.2 C815.8 106.0 817.8 108.9 819.8 111.9 C821.8 114.8 823.7 117.9 825.5 120.9 C827.3 124.0 829.0 127.2 830.7 130.3 C832.4 133.5 834.1 136.7 835.6 139.9 C837.2 143.2 838.7 146.4 840.2 149.7 C841.7 153.0 843.1 156.3 844.5 159.6 C845.9 162.9 847.3 166.2 848.6 169.5 C850.0 172.8 851.2 176.1 852.5 179.5 C853.7 182.8 854.9 186.2 856.1 189.5 C857.3 192.9 858.4 196.3 859.6 199.6 C860.7 203.0 861.7 206.4 862.8 209.8 C863.8 213.2 864.8 216.6 865.8 220.0 C866.8 223.4 867.8 226.8 868.7 230.2 C869.6 233.7 870.5 237.1 871.4 240.5 C872.3 244.0 873.1 247.4 874.0 250.9 C874.8 254.3 875.6 257.8 876.4 261.2 C877.2 264.7 877.9 268.2 878.7 271.6 C879.4 275.1 880.1 278.6 880.8 282.0 C881.5 285.5 882.2 289.0 882.9 292.5 C883.6 296.0 884.2 299.5 884.9 303.0 C885.5 306.5 886.1 310.0 886.7 313.5 C887.4 317.0 888.0 320.5 888.6 324.0 C889.1 327.5 889.7 331.0 890.3 334.5 C890.9 338.0 891.4 341.5 892.0 345.0 C892.5 348.5 893.1 352.0 893.6 355.5 C894.2 359.0 894.7 362.6 895.2 366.1 C895.7 369.6 896.2 373.1 896.7 376.6 C897.2 380.1 897.7 383.7 898.2 387.2 C898.7 390.7 899.2 394.2 899.7 397.7 C900.1 401.3 900.6 404.8 901.1 408.3 C901.5 411.8 902.0 415.4 902.4 418.9 C902.9 422.4 903.3 425.9 903.8 429.5 C904.2 433.0 904.6 436.5 905.1 440.1 C905.5 443.6 905.9 447.1 906.3 450.7 C906.8 454.2 907.2 457.7 907.6 461.3 C908.0 464.8 908.4 468.3 908.8 471.9 C909.2 475.4 909.6 478.9 910.0 482.5 C910.4 486.0 910.8 489.5 911.2 493.1 C911.6 496.6 912.0 500.1 912.4 503.7 C912.7 507.2 913.1 510.8 913.5 514.3 C913.9 517.8 914.3 521.4 914.7 524.9 C915.0 528.4 915.4 532.0 915.8 535.5 C916.2 539.1 916.6 542.6 916.9 546.1 C917.3 549.7 917.7 553.2 918.1 556.7 C918.5 560.3 918.8 563.8 919.2 567.4 C919.6 570.9 920.0 574.4 920.4 578.0 C920.8 581.5 921.1 585.0 921.5 588.6 C921.9 592.1 922.3 595.6 922.7 599.2 C923.1 602.7 923.5 606.2 924.0 609.8 C924.4 613.3 924.8 616.8 925.2 620.4 C925.7 623.9 926.1 627.4 926.6 630.9 C927.0 634.5 927.5 638.0 927.9 641.5 C928.4 645.0 928.9 648.5 929.4 652.0 C929.9 655.6 930.4 659.1 931.0 662.6 C931.5 666.1 932.0 669.6 932.6 673.1 C933.2 676.6 933.7 680.1 934.3 683.6 C934.9 687.1 935.6 690.6 936.2 694.1 C936.8 697.6 937.5 701.1 938.2 704.6 C938.8 708.0 939.5 711.5 940.3 715.0 C941.0 718.5 941.7 721.9 942.5 725.4 C943.3 728.9 944.1 732.3 944.9 735.8 C945.7 739.3 946.6 742.7 947.4 746.2 C948.3 749.6 949.2 753.1 950.1 756.5 C951.1 759.9 952.0 763.4 953.1 766.8 C954.1 770.2 955.1 773.6 956.2 777.0 C957.3 780.4 958.5 783.8 959.7 787.1 C960.9 790.4 962.2 793.8 963.6 797.1 C964.9 800.3 966.4 803.6 967.9 806.8 C969.4 810.0 971.0 813.2 972.8 816.3 C974.5 819.4 976.3 822.4 978.3 825.4 C980.3 828.3 982.4 831.1 984.6 833.9 C986.9 836.6 989.3 839.3 991.7 841.8 C994.2 844.3 996.8 846.7 999.5 849.0 C1002.2 851.3 1005.0 853.5 1007.9 855.5 C1010.8 857.6 1013.9 859.5 1016.9 861.3 C1020.0 863.1 1023.2 864.7 1026.4 866.2 C1029.6 867.7 1032.9 869.1 1036.3 870.4 C1039.6 871.6 1043.0 872.8 1046.4 873.8 C1049.9 874.8 1053.3 875.6 1056.8 876.4 C1060.3 877.2 1063.7 877.8 1067.2 878.4 C1070.7 879.0 1074.3 879.6 1077.8 880.1 C1081.3 880.6 1084.8 881.1 1088.3 881.6 C1091.9 882.1 1095.4 882.6 1098.9 883.2 C1102.4 883.8 1105.9 884.4 1109.3 885.1 C1112.8 885.8 1116.3 886.5 1119.7 887.3 C1123.2 888.1 1126.6 889.0 1130.0 889.9 C1133.5 890.8 1136.9 891.8 1140.2 892.9 C1143.6 893.9 1147.0 895.1 1150.3 896.3 C1153.7 897.5 1157.0 898.7 1160.3 900.0 C1163.6 901.3 1166.9 902.7 1170.2 904.0 C1173.5 905.4 1176.8 906.8 1180.1 908.2 C1183.4 909.5 1186.7 910.9 1190.0 912.3 C1193.2 913.6 1196.5 915.0 1199.8 916.3 C1203.1 917.6 1206.5 918.8 1209.8 920.0 C1213.1 921.2 1216.5 922.4 1219.8 923.4 C1223.2 924.5 1226.6 925.5 1230.0 926.4 C1233.5 927.3 1236.9 928.1 1240.4 928.8 C1243.9 929.5 1249.2 930.3 1251.0 930.6" stroke="#000000" stroke-width="3.7"/>
</g>
<g><text x="164.4" y="993.5" text-anchor="middle">100</text><text x="319.5" y="993.5" text-anchor="middle">200</text><text x="474.6" y="993.5" text-anchor="middle">300</text><text x="629.7" y="993.5" text-anchor="middle">400</text><text x="786.2" y="993.5" text-anchor="middle">500</text><text x="940.8" y="993.5" text-anchor="middle">600</text><text x="1096.4" y="993.5" text-anchor="middle">700</text><text x="1252.5" y="993.5" text-anchor="middle">800</text></g>
<g><text x="130.5" y="946.5" text-anchor="end">0</text><text x="130.5" y="770.9" text-anchor="end">0.2</text><text x="130.5" y="595.2" text-anchor="end">0.4</text><text x="130.5" y="419.6" text-anchor="end">0.6</text><text x="130.5" y="243.9" text-anchor="end">0.8</text><text x="130.5" y="68.3" text-anchor="end">1</text></g>
<text x="569.8" y="1046" xml:space="preserve" id="xl" style="font-size:38.6px;word-spacing:5.5px">Temperature (<tspan style="font-size:27px" dx="0.8" dy="-12">o</tspan><tspan dx="0.8" dy="12">C</tspan><tspan dx="0.5">)</tspan></text>
<text transform="translate(44.3,475.5) rotate(-90)" text-anchor="middle" xml:space="preserve" id="yl" style="font-size:38.6px;word-spacing:5.5px">Fractional Weight (-)</text>
<line x1="878.4" y1="218.3" x2="965.7" y2="132.8" stroke="#2a2a2a" stroke-width="1.5"/><polygon points="975.7,123.0 969.7,139.7 958.8,128.7" fill="#000000"/><line x1="724.0" y1="309.7" x2="647.1" y2="399.8" stroke="#4040c0" stroke-width="1.5"/><polygon points="638.0,410.5 642.5,393.3 654.3,403.4" fill="#0808f8"/><line x1="807.0" y1="566.0" x2="726.0" y2="671.3" stroke="#b84a4e" stroke-width="1.6"/><polygon points="717.5,682.4 721.1,665.0 733.4,674.4" fill="#f40808"/><line x1="965.6" y1="687.7" x2="1047.3" y2="594.4" stroke="#5cae5c" stroke-width="1.6"/><polygon points="1056.5,583.9 1051.8,601.0 1040.1,590.8" fill="#33c633"/>
<text x="980" y="109.8" id="t0" style="font-size:40px">PPSU<tspan dx="-0.6">-</tspan><tspan dx="-0.8">0</tspan></text>
<text x="506" y="451.5" id="t7" style="font-size:40px;fill:#0c0cf0">PPSU<tspan dx="-0.6">-</tspan><tspan dx="-0.8">7</tspan></text>
<text x="599.5" y="722.8" id="t4" style="font-size:40px;fill:#e61212">PPSU<tspan dx="-0.6">-</tspan><tspan dx="-0.8">4</tspan></text>
<text x="1058" y="572" id="t6" style="font-size:40px;fill:#3cb83c">PPSU<tspan dx="-0.6">-</tspan><tspan dx="-0.8">6</tspan></text>
</svg>
</body></html>
